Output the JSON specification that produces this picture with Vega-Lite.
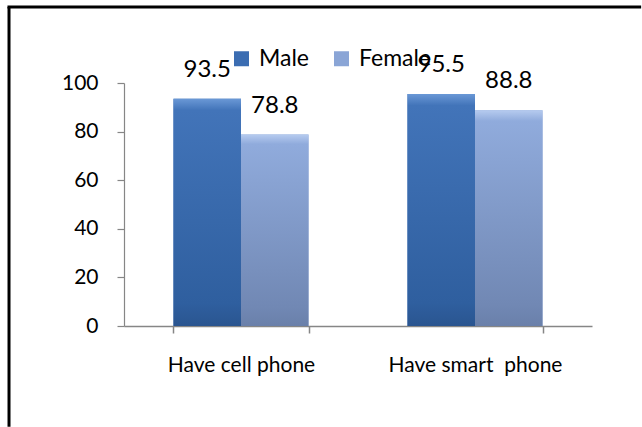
{
  "$schema": "https://vega.github.io/schema/vega-lite/v6.json",
  "width": 468,
  "height": 243,
  "autosize": {"type": "none"},
  "padding": {"left": 124, "top": 83, "right": 50, "bottom": 101},
  "background": "white",
  "config": {"view": {"stroke": null}, "font": "Lato", "axis": {"labelFont": "Lato"}, "legend": {"labelFont": "Lato"}},
  "data": {"values": [
    {"item": "Have cell phone", "gender": "Male", "value": 93.5},
    {"item": "Have cell phone", "gender": "Female", "value": 78.8},
    {"item": "Have smart\u00a0 phone", "gender": "Male", "value": 95.5},
    {"item": "Have smart\u00a0 phone", "gender": "Female", "value": 88.8}
  ]},
  "resolve": {"scale": {"x": "independent"}},
  "layer": [
    {
      "encoding": {
        "x": {"field": "item", "type": "nominal", "sort": null,
          "scale": {"paddingInner": 0.423, "paddingOuter": 0.2115},
          "axis": {"title": null, "labelAngle": 0, "labelFontSize": 21, "labelColor": "black", "domainColor": "#868686", "domainWidth": 1.5, "tickColor": "#868686", "tickWidth": 1.5, "tickSize": 7, "tickBand": "extent", "labelPadding": 21}},
        "xOffset": {"field": "gender", "type": "nominal", "sort": ["Male", "Female"], "scale": {"paddingInner": 0, "paddingOuter": 0}},
        "y": {"field": "value", "type": "quantitative", "scale": {"domain": [0, 100], "nice": false},
          "axis": {"title": null, "values": [0, 20, 40, 60, 80, 100], "labelFontSize": 21, "labelColor": "black", "domainColor": "#868686", "domainWidth": 1.2, "tickColor": "#868686", "tickWidth": 1.2, "tickSize": 7, "labelPadding": 19, "grid": false}}
      },
      "layer": [
        {
          "mark": {"type": "bar"},
          "encoding": {
            "color": {"field": "gender", "type": "nominal", "sort": ["Male", "Female"],
              "scale": {"domain": ["Male", "Female"], "range": ["#3B6DB2", "#8AA5D6"]},
              "legend": {"title": null, "orient": "none", "legendX": 106, "legendY": -36, "direction": "horizontal", "symbolType": "square", "symbolSize": 225, "symbolStrokeWidth": 0, "labelFontSize": 23, "labelColor": "black", "labelOffset": 6, "columnPadding": 20}}
          }
        },
        {
          "transform": [{"filter": "datum.gender === 'Male'"}],
          "mark": {"type": "bar", "color": {"gradient": "linear", "x1": 0, "y1": 0, "x2": 0, "y2": 1, "stops": [
            {"offset": 0, "color": "#6A98D6"}, {"offset": 0.05, "color": "#4274B9"}, {"offset": 0.9, "color": "#2F5F9F"}, {"offset": 1, "color": "#2A5590"}]}}
        },
        {
          "transform": [{"filter": "datum.gender === 'Female'"}],
          "mark": {"type": "bar", "color": {"gradient": "linear", "x1": 0, "y1": 0, "x2": 0, "y2": 1, "stops": [
            {"offset": 0, "color": "#B6CBEF"}, {"offset": 0.05, "color": "#90ABDC"}, {"offset": 0.9, "color": "#7188B4"}, {"offset": 1, "color": "#6A80AA"}]}}
        },
        {
          "mark": {"type": "text", "dy": -22, "baseline": "alphabetic", "align": "center", "fontSize": 24, "font": "Lato", "color": "black"},
          "encoding": {"text": {"field": "value", "type": "quantitative", "format": ".1f"}}
        }
      ]
    },
    {
      "data": {"values": [{}]},
      "layer": [
        {
          "mark": {"type": "rect", "color": "black", "strokeWidth": 0},
          "encoding": {
            "x": {"datum": -0.249, "type": "quantitative", "scale": {"domain": [0, 1], "nice": false, "zero": false}, "axis": null},
            "x2": {"datum": 1.105},
            "y": {"datum": 131.9, "type": "quantitative", "scale": {"domain": [0, 100], "nice": false}},
            "y2": {"datum": 130.7}
          }
        },
        {
          "mark": {"type": "rule", "color": "black", "strokeWidth": 3},
          "encoding": {
            "x": {"datum": -0.2457, "type": "quantitative", "scale": {"domain": [0, 1], "nice": false, "zero": false}, "axis": null},
            "y": {"datum": 131.3, "type": "quantitative", "scale": {"domain": [0, 100], "nice": false}},
            "y2": {"datum": -41.5}
          }
        }
      ]
    }
  ]
}
